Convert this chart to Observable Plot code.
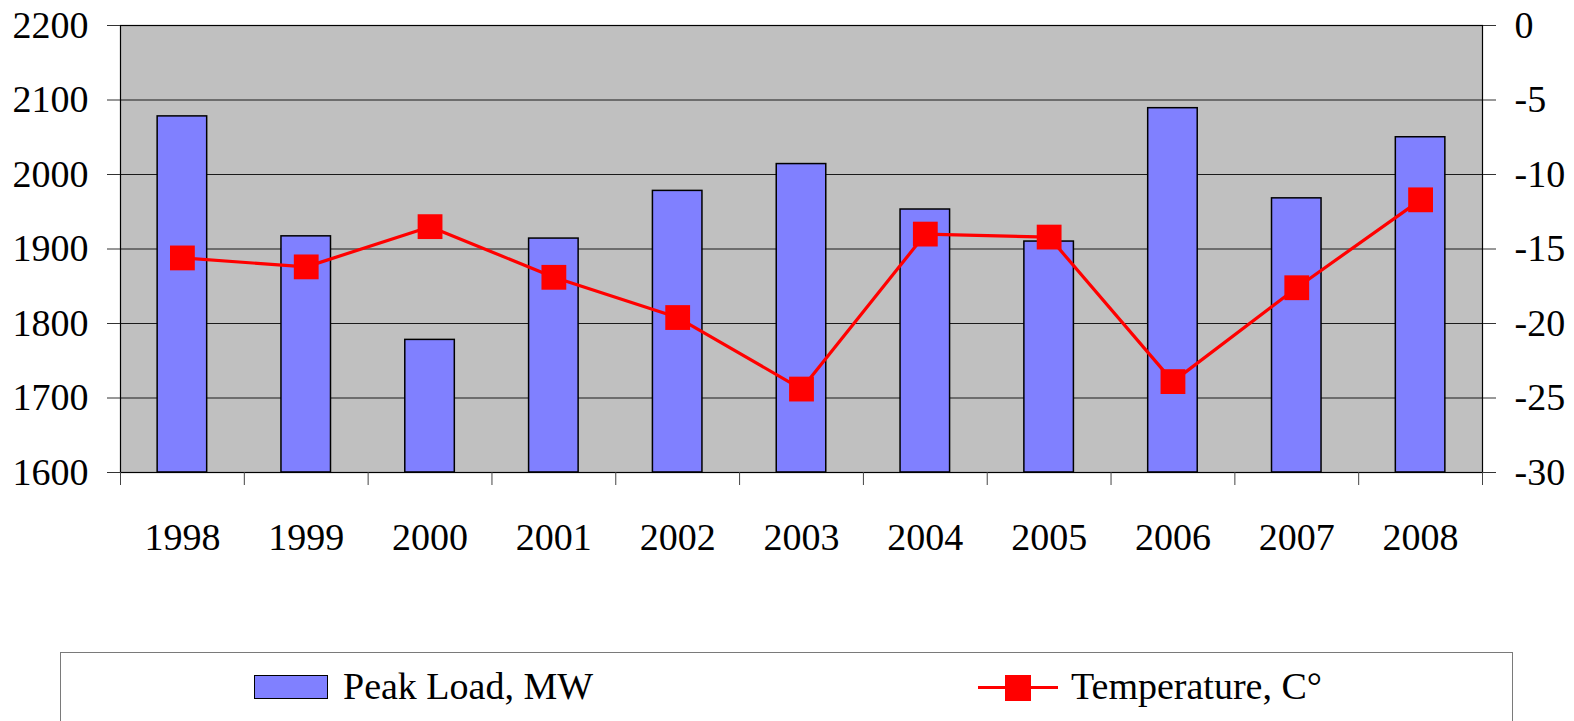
<!DOCTYPE html>
<html><head><meta charset="utf-8">
<script src="https://cdn.jsdelivr.net/npm/d3@7"></script>
<script src="https://cdn.jsdelivr.net/npm/@observablehq/plot@0.6"></script>
<style>
body{margin:0;background:#fff;font-family:"Liberation Serif","DejaVu Serif","Noto Serif",serif;}
#wrap{position:relative;width:1574px;height:721px;overflow:hidden;}
#chart svg{display:block;}
#legend{position:absolute;left:60px;top:652px;width:1453px;height:100px;border:1px solid #7a7a7a;box-sizing:border-box;background:#fff;}
.lg{position:absolute;font-size:38px;line-height:38px;color:#000;white-space:nowrap;font-family:"Liberation Serif","DejaVu Serif","Noto Serif",serif;}
</style></head><body>
<div id="wrap"><div id="chart"></div>
<div id="legend">
  <div style="position:absolute;left:193px;top:22px;width:74px;height:24px;background:#8080ff;border:1.5px solid #000;box-sizing:border-box;"></div>
  <div class="lg" style="left:282px;top:14px;">Peak Load, MW</div>
  <div style="position:absolute;left:917px;top:33px;width:80px;height:3px;background:#ff0000;"></div>
  <div style="position:absolute;left:944px;top:22px;width:26px;height:26px;background:#ff0000;"></div>
  <div class="lg" style="left:1010px;top:14px;">Temperature, C°</div>
</div>
</div>
<script>
const years = [1998, 1999, 2000, 2001, 2002, 2003, 2004, 2005, 2006, 2007, 2008];
const peakLoad = [2078, 1917, 1778, 1914, 1978, 2014, 1953, 1910, 2089, 1968, 2050];
const temperature = [-15.6, -16.2, -13.5, -16.9, -19.6, -24.4, -14.0, -14.2, -23.9, -17.6, -11.7];
const loadTicks = [1600, 1700, 1800, 1900, 2000, 2100, 2200];
const tempTicks = [-30, -25, -20, -15, -10, -5, 0];

const loadMin = loadTicks[0], loadMax = loadTicks[loadTicks.length - 1];
const tempToLoad = d3.scaleLinear([tempTicks[0], tempTicks[tempTicks.length - 1]], [loadMin, loadMax]);
const data = years.map((y, i) => ({year: y, load: peakLoad[i], temp: temperature[i]}));
const boundaries = d3.range(years.length + 1).map(i => years[0] - 0.5 + i);
const serif = "'Liberation Serif', 'DejaVu Serif', 'Noto Serif', serif";

const chart = Plot.plot({
  width: 1574,
  height: 650,
  marginLeft: 120,
  marginRight: 92,
  marginTop: 25,
  marginBottom: 178,
  x: {domain: [years[0] - 0.5, years[years.length - 1] + 0.5]},
  y: {domain: [loadMin, loadMax]},
  style: {fontFamily: serif, fontSize: "38px", color: "#000", background: "transparent", overflow: "visible"},
  marks: [
    Plot.frame({fill: "#c0c0c0", stroke: null}),
    Plot.ruleY(loadTicks, {stroke: "#1a1a1a", strokeWidth: 1.2}),
    Plot.rect(data, {x1: d => d.year - 0.2, x2: d => d.year + 0.2, y1: () => loadMin, y2: "load", fill: "#8080ff", stroke: "#000", strokeWidth: 1.5}),
    Plot.line(data, {x: "year", y: d => tempToLoad(d.temp), stroke: "#ff0000", strokeWidth: 3.2}),
    Plot.dot(data, {x: "year", y: d => tempToLoad(d.temp), symbol: "square", r: 14, fill: "#ff0000", stroke: null}),
    Plot.frame({stroke: "#000", strokeWidth: 1.2}),
    Plot.axisY({anchor: "left", ticks: loadTicks, tickSize: 13, tickPadding: 19, label: null, fontSize: 38, fontFamily: serif, stroke: "#333",
      tickFormat: d => String(d)}),
    Plot.axisY({anchor: "right", ticks: loadTicks, tickSize: 13, tickPadding: 19, label: null, fontSize: 38, fontFamily: serif, stroke: "#333",
      tickFormat: d => String(Math.round(tempToLoad.invert(d)))}),
    Plot.axisX({ticks: years, tickSize: 0, tickPadding: 51, label: null, fontSize: 38, fontFamily: serif, tickFormat: d => String(d)}),
    Plot.axisX({ticks: boundaries, tickSize: 13, label: null, stroke: "#444", tickFormat: () => ""})
  ]
});
document.getElementById("chart").appendChild(chart);
</script>
</body></html>
